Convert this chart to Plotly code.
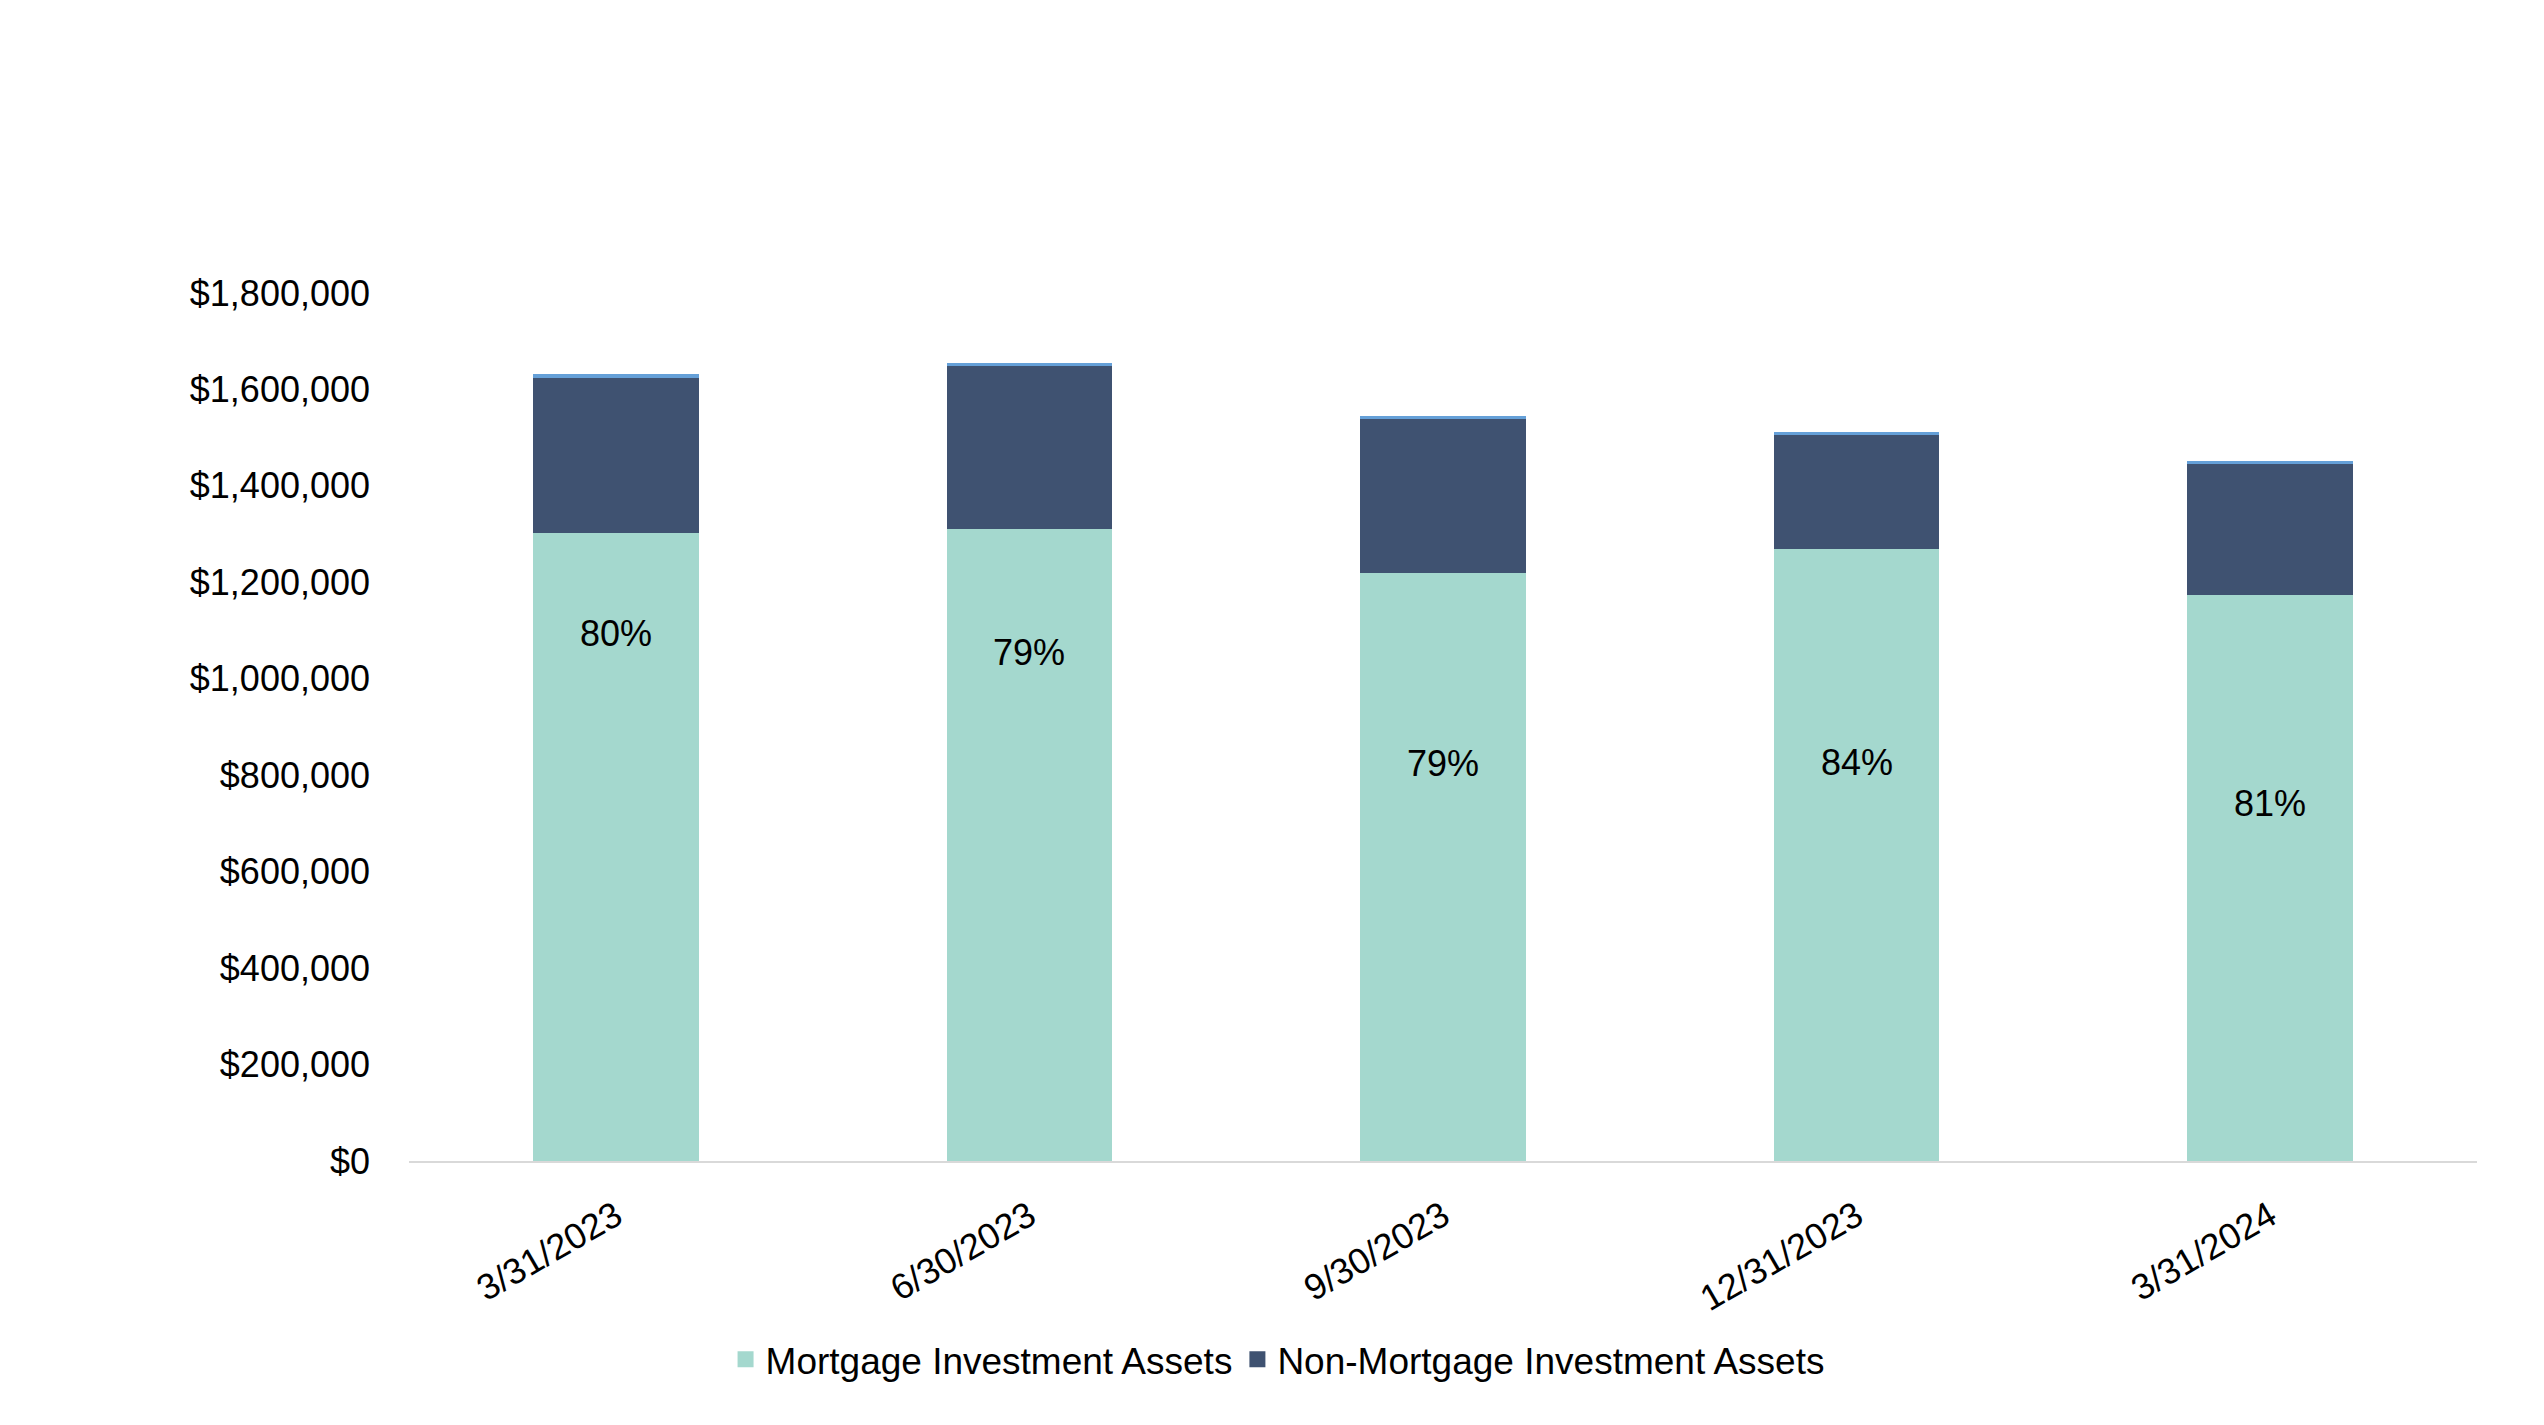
import plotly.graph_objects as go

categories = ["3/31/2023", "6/30/2023", "9/30/2023", "12/31/2023", "3/31/2024"]
mortgage = [1302900, 1310600, 1220000, 1268500, 1174300]
non_mortgage = [321500, 338600, 318700, 237000, 271700]
other = [7600, 5600, 6200, 6250, 5600]
pct_labels = ["80%", "79%", "79%", "84%", "81%"]
label_y = [1094900, 1053500, 825300, 826400, 742400]
y_ticks = [0, 200000, 400000, 600000, 800000, 1000000, 1200000, 1400000, 1600000, 1800000]

FONT = "Liberation Sans, Arial, sans-serif"
C_MORT = "#A4D8CE"
C_NON = "#3F5271"
C_OTHER = "#65A0D8"

fig = go.Figure()
fig.add_trace(go.Bar(x=categories, y=mortgage, name="Mortgage Investment Assets", showlegend=False,
                     marker=dict(color=C_MORT, line=dict(width=0))))
fig.add_trace(go.Bar(x=categories, y=non_mortgage, name="Non-Mortgage Investment Assets", showlegend=False,
                     marker=dict(color=C_NON, line=dict(width=0))))
fig.add_trace(go.Bar(x=categories, y=other, name="Other", showlegend=False,
                     marker=dict(color=C_OTHER, line=dict(width=0))))

# legend entries with larger square swatches
for nm, col in [("Mortgage Investment Assets", C_MORT), ("Non-Mortgage Investment Assets", C_NON)]:
    fig.add_trace(go.Scatter(x=[None], y=[None], mode="markers", name=nm,
                             marker=dict(symbol="square", size=22, color=col, line=dict(width=0)),
                             showlegend=True, hoverinfo="skip"))

for c, t, yv in zip(categories, pct_labels, label_y):
    fig.add_annotation(x=c, y=yv, text=t, showarrow=False,
                       font=dict(family=FONT, size=36, color="#000000"))

fig.update_layout(
    barmode="stack",
    bargap=0.6,
    width=2544, height=1425,
    margin=dict(l=409, r=67, t=293, b=264),
    paper_bgcolor="white", plot_bgcolor="white",
    font=dict(family=FONT, size=36, color="#000000"),
    showlegend=True,
    legend=dict(orientation="h", x=0.42, xanchor="center", y=-0.229, yanchor="middle",
                font=dict(family=FONT, size=37, color="#000000"),
                itemwidth=30, traceorder="normal"),
)
fig.update_xaxes(showgrid=False, showline=True, linecolor="#D9D9D9", linewidth=2,
                 tickangle=-30, ticks="", ticklabelstandoff=18,
                 tickfont=dict(family=FONT, size=36, color="#000000"))
fig.update_yaxes(range=[0, 1800000], tickvals=y_ticks, tickformat="$,.0f",
                 showgrid=False, zeroline=False, showline=False, ticks="",
                 ticklabelstandoff=38,
                 tickfont=dict(family=FONT, size=36, color="#000000"))

fig.write_html("out.html")
